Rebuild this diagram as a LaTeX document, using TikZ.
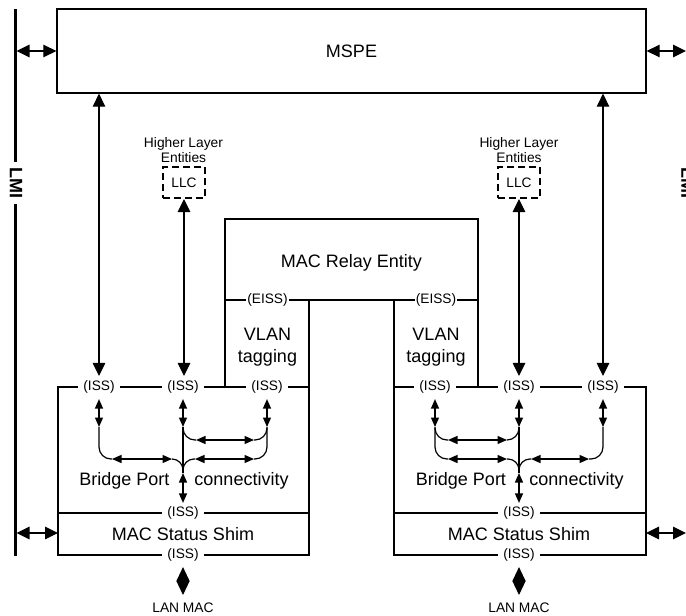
\documentclass[tikz,border=0pt]{standalone}
\usepackage{fontspec}
\setmainfont{Liberation Sans}
\usetikzlibrary{arrows.meta}
\begin{document}
\begin{tikzpicture}[x=1pt,y=-1pt,
  box/.style={line width=1.3pt},
  wire/.style={line width=1.2pt},
  bigarrow/.style={line width=1.2pt,{Triangle[length=13pt,width=12.5pt]}-{Triangle[length=13pt,width=12.5pt]}},
  smallarrow/.style={line width=1.2pt,{Triangle[length=9.5pt,width=8pt]}-{Triangle[length=9.5pt,width=8pt]}},
  lanarrow/.style={line width=1.2pt,{Triangle[length=14pt,width=13pt]}-{Triangle[length=14pt,width=13pt]}},
  lbl/.style={fill=white,font=\fontsize{13.7}{15}\selectfont,inner xsep=5pt,inner ysep=1pt},
  elbl/.style={fill=white,font=\fontsize{13.7}{15}\selectfont,inner xsep=1pt,inner ysep=1pt},
  smalltext/.style={font=\fontsize{13.8}{16}\selectfont,inner sep=0pt,align=center},
  bigtext/.style={font=\fontsize{18}{22}\selectfont,inner sep=0pt},
  llcbox/.style={draw,line width=2pt,dash pattern=on 7pt off 4pt,minimum width=42pt,minimum height=31pt,inner sep=0pt,font=\fontsize{13.7}{15}\selectfont},
  lmitext/.style={font=\fontsize{18}{22}\selectfont\bfseries,rotate=-90,fill=white,inner xsep=6pt,inner ysep=0pt}
]
\useasboundingbox (0,0) rectangle (686,616);
\clip (0,0) rectangle (686,616);

% LMI bars
\draw[line width=3pt] (15,9) -- (15,556);
\node[lmitext] (lmiL) at (16,183) {LMI};
\node[lmitext] (lmiR) at (687.6,183) {LMI};
\coordinate (lmiA) at (16.5,51);
\coordinate (lmiB) at (16.5,533);
\coordinate (rA) at (686,51);
\coordinate (rB) at (686,533);

% MSPE
\node[draw,box,minimum width=589pt,minimum height=84pt,inner sep=0pt,font=\fontsize{18}{22}\selectfont] (mspe) at (351.5,51) {MSPE};

% MAC relay + VLAN
\draw[box] (225,387) -- (225,219) -- (478,219) -- (478,387);
\draw[box] (225,300) -- (478,300);
\node[bigtext,anchor=base] (relay) at (351.5,267) {MAC Relay Entity};
\node[elbl] (eissL) at (267.5,300) {(EISS)};
\node[elbl] (eissR) at (436,300) {(EISS)};
\node[bigtext,anchor=base] (vlanL1) at (267.5,340) {VLAN};
\node[bigtext,anchor=base] (vlanL2) at (267.5,362.5) {tagging};
\node[bigtext,anchor=base] (vlanR1) at (436,340) {VLAN};
\node[bigtext,anchor=base] (vlanR2) at (436,362.5) {tagging};

% Left bridge port box
\draw[box] (309,300) -- (309,555) -- (58,555) -- (58,387) -- (309,387);
\draw[box] (58,513) -- (309,513);
% Right bridge port box
\draw[box] (394,300) -- (394,555) -- (646,555) -- (646,387) -- (394,387);
\draw[box] (394,513) -- (646,513);

% ISS labels
\node[lbl] (issLa) at (99,387) {(ISS)};
\node[lbl] (issLb) at (183,387) {(ISS)};
\node[lbl] (issLc) at (267,387) {(ISS)};
\node[lbl] (issLd) at (183,513) {(ISS)};
\node[lbl] (issLe) at (183,555) {(ISS)};
\node[lbl] (issRa) at (435,387) {(ISS)};
\node[lbl] (issRb) at (519,387) {(ISS)};
\node[lbl] (issRc) at (603,387) {(ISS)};
\node[lbl] (issRd) at (519,513) {(ISS)};
\node[lbl] (issRe) at (519,555) {(ISS)};

% texts
\node[bigtext,anchor=base] (bpL) at (124.5,485) {Bridge Port};
\node[bigtext,anchor=base] (cnL) at (241.5,485) {connectivity};
\node[bigtext,anchor=base] (bpR) at (461,485) {Bridge Port};
\node[bigtext,anchor=base] (cnR) at (576.5,485) {connectivity};
\node[bigtext,anchor=base] (shimL) at (183,540) {MAC Status Shim};
\node[bigtext,anchor=base] (shimR) at (519,540) {MAC Status Shim};
\node[smalltext,anchor=base] (lanL) at (183,612) {LAN MAC};
\node[smalltext,anchor=base] (lanR) at (519,612) {LAN MAC};

% Higher layer entities
\node[smalltext,anchor=base] (hlL) at (183.5,147) {Higher Layer};
\node[smalltext,anchor=base] (enL) at (183.5,162) {Entities};
\node[smalltext,anchor=base] (hlR) at (519,147) {Higher Layer};
\node[smalltext,anchor=base] (enR) at (519,162) {Entities};
\node[llcbox] (llcL) at (184,182.5) {LLC};
\node[llcbox] (llcR) at (519,182.5) {LLC};

% LMI arrows
\draw[bigarrow] (lmiA) -- (mspe.west);
\draw[bigarrow] (mspe.east) -- (rA);
\draw[bigarrow] (lmiB) -- (58,533);
\draw[bigarrow] (646,533) -- (rB);

% MSPE vertical arrows
\draw[bigarrow,shorten >=3.5pt] (mspe.south -| issLa) -- (issLa.north);
\draw[bigarrow,shorten >=3.5pt] (mspe.south -| issRc) -- (issRc.north);
% LLC arrows
\draw[bigarrow,shorten >=3.5pt] (llcL.south) -- (issLb.north -| llcL.south);
\draw[bigarrow,shorten >=3.5pt] (llcR.south) -- (issRb.north);

% Left connectivity
\draw[smallarrow,shorten <=4.5pt] (issLa.south) -- (99,427);
\draw[smallarrow,shorten <=4.5pt] (issLb.south) -- (183,427);
\draw[smallarrow,shorten <=4.5pt] (issLc.south) -- (267,427);
\draw[wire,rounded corners=12pt] (99,427) |- (112,459);
\draw[smallarrow] (112,459) -- (172,459);
\draw[wire,rounded corners=11pt] (172,459) -| (183,470);
\draw[wire] (183,427) -- (183,473);
\draw[wire,rounded corners=11pt] (195,459) -| (183,470);
\draw[smallarrow] (195,459) -- (254,459);
\draw[wire,rounded corners=12pt] (254,459) -| (267,427);
\draw[wire,rounded corners=12pt] (183,428) |- (196,440);
\draw[smallarrow] (196,440) -- (254,440);
\draw[wire,rounded corners=12pt] (254,440) -| (267,428);
\draw[smallarrow,shorten >=2.5pt] (183,473) -- (issLd.north);
\draw[lanarrow,shorten <=4.5pt] (issLe.south) -- (183,595);

% Right connectivity
\draw[smallarrow,shorten <=4.5pt] (issRa.south) -- (435,427);
\draw[smallarrow,shorten <=4.5pt] (issRb.south) -- (519,427);
\draw[smallarrow,shorten <=4.5pt] (issRc.south) -- (603,427);
\draw[wire,rounded corners=12pt] (435,427) |- (448,459);
\draw[wire,rounded corners=12pt] (435,428) |- (448,440);
\draw[smallarrow] (448,440) -- (507,440);
\draw[wire,rounded corners=12pt] (507,440) -| (519,428);
\draw[smallarrow] (448,459) -- (507,459);
\draw[wire,rounded corners=11pt] (507,459) -| (519,470);
\draw[wire] (519,427) -- (519,473);
\draw[wire,rounded corners=11pt] (531,459) -| (519,470);
\draw[smallarrow] (531,459) -- (589,459);
\draw[wire,rounded corners=12pt] (589,459) -| (603,427);
\draw[smallarrow,shorten >=2.5pt] (519,473) -- (issRd.north);
\draw[lanarrow,shorten <=4.5pt] (issRe.south) -- (519,595);
\end{tikzpicture}
\end{document}
